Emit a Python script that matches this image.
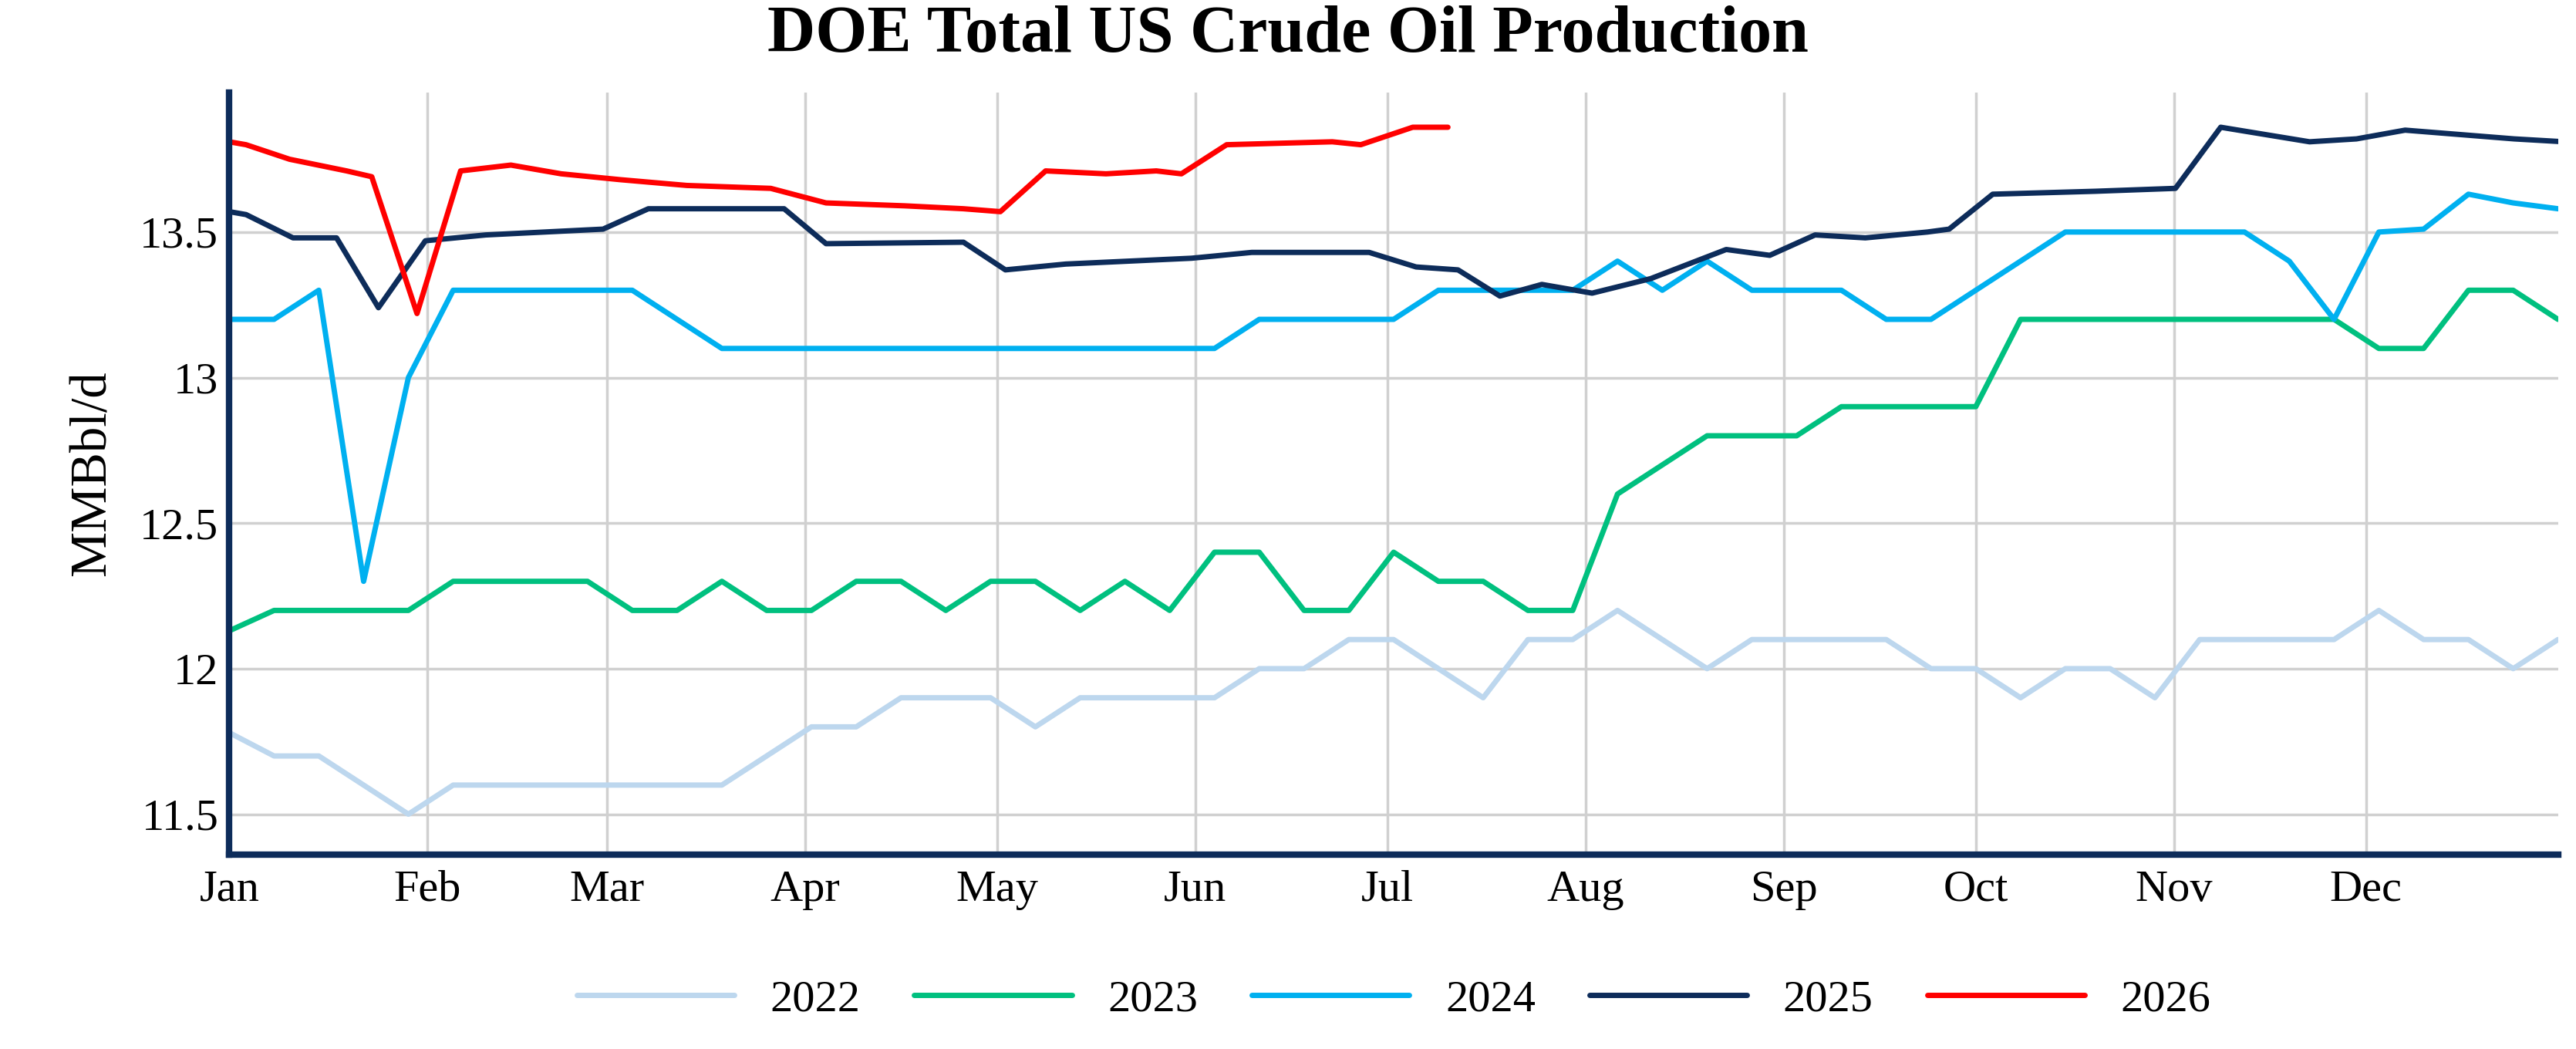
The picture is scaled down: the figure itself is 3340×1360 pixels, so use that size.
import numpy as np, pandas as pd, seaborn as sns, matplotlib
matplotlib.use("Agg")
import matplotlib.pyplot as plt

v2022 = [11.78,11.7,11.7,11.6,11.5,11.6,11.6,11.6,11.6,11.6,11.6,11.6,11.7,11.8,11.8,11.9,11.9,11.9,11.8,11.9,11.9,11.9,11.9,12.0,12.0,12.1,12.1,12.0,11.9,12.1,12.1,12.2,12.1,12.0,12.1,12.1,12.1,12.1,12.0,12.0,11.9,12.0,12.0,11.9,12.1,12.1,12.1,12.1,12.2,12.1,12.1,12.0,12.1]
v2023 = [12.13,12.2,12.2,12.2,12.2,12.3,12.3,12.3,12.3,12.2,12.2,12.3,12.2,12.2,12.3,12.3,12.2,12.3,12.3,12.2,12.3,12.2,12.4,12.4,12.2,12.2,12.4,12.3,12.3,12.2,12.2,12.6,12.7,12.8,12.8,12.8,12.9,12.9,12.9,12.9,13.2,13.2,13.2,13.2,13.2,13.2,13.2,13.2,13.1,13.1,13.3,13.3,13.2]
v2024 = [13.2,13.2,13.3,12.3,13.0,13.3,13.3,13.3,13.3,13.3,13.2,13.1,13.1,13.1,13.1,13.1,13.1,13.1,13.1,13.1,13.1,13.1,13.1,13.2,13.2,13.2,13.2,13.3,13.3,13.3,13.3,13.4,13.3,13.4,13.3,13.3,13.3,13.2,13.2,13.3,13.4,13.5,13.5,13.5,13.5,13.5,13.4,13.2,13.5,13.51,13.63,13.6,13.58]
px2025 = [137,147,175,201,226,254,290,360,387,468,493,575,600,636,711,747,817,845,870,895,920,950,985,1030,1056,1083,1113,1150,1163,1189,1250,1298,1325,1378,1406,1435,1500,1530]
v2025 = [13.57,13.56,13.48,13.48,13.24,13.47,13.49,13.51,13.58,13.58,13.46,13.465,13.37,13.39,13.41,13.43,13.43,13.38,13.37,13.28,13.32,13.29,13.34,13.44,13.42,13.49,13.48,13.5,13.51,13.63,13.64,13.65,13.86,13.81,13.82,13.85,13.82,13.81]
px2026 = [137,147,173,207,222,249,275,305,335,370,410,460,493,540,575,597,624,660,690,705,732,795,812,843,864]
v2026 = [13.81,13.80,13.75,13.71,13.69,13.22,13.71,13.73,13.70,13.68,13.66,13.65,13.60,13.59,13.58,13.57,13.71,13.70,13.71,13.70,13.80,13.81,13.80,13.86,13.86]
months = ["Jan","Feb","Mar","Apr","May","Jun","Jul","Aug","Sep","Oct","Nov","Dec"]
month_days = [0,31,59,90,120,151,181,212,243,273,304,334]

def px2day(p): return [(x-137)*365/1393 for x in p]
rows=[]
for yr,vals in [("2022",v2022),("2023",v2023),("2024",v2024)]:
    for i,v in enumerate(vals): rows.append((yr,i*7,v))
for yr,p,vals in [("2025",px2025,v2025),("2026",px2026,v2026)]:
    for d,v in zip(px2day(p),vals): rows.append((yr,d,v))
df = pd.DataFrame(rows,columns=["year","day","val"])

sns.set_theme(style="white")
plt.rcParams['font.family']=['Liberation Serif','DejaVu Serif']
plt.rcParams['text.color']='black'
fig = plt.figure(figsize=(33.4,13.6),dpi=100)
ax = fig.add_axes([0.089,0.185,0.904,0.727])
pal = {"2022":"#bdd7ee","2023":"#00c07f","2024":"#00b0f0","2025":"#0d2c5a","2026":"#ff0000"}
sns.lineplot(data=df,x="day",y="val",hue="year",palette=pal,linewidth=5,ax=ax,sort=False,estimator=None)
ax.set_xlim(0,364); ax.set_ylim(11.36,13.98)
ax.set_xticks(month_days); ax.set_xticklabels(months,fontsize=42,color="black")
ax.set_yticks([11.5,12,12.5,13,13.5]); ax.set_yticklabels(["11.5","12","12.5","13","13.5"],fontsize=42,color="black")
ax.grid(True,color="#d0d0d0",linewidth=2.5)
for s in ["top","right"]: ax.spines[s].set_visible(False)
for s in ["left","bottom"]:
    ax.spines[s].set_color("#0d2c5a"); ax.spines[s].set_linewidth(6)
ax.tick_params(axis='x',pad=14,length=0); ax.tick_params(axis='y',pad=10,length=0)
ax.set_xlabel(""); ax.set_ylabel("MMBbl/d",fontsize=48,labelpad=22,color="black")
fig.suptitle("DOE Total US Crude Oil Production",fontsize=62,fontweight="bold",y=0.995,color="black")
h,l = ax.get_legend_handles_labels()
ax.legend(h,l,loc="upper center",bbox_to_anchor=(0.5,-0.11),ncol=5,frameon=False,fontsize=42,handlelength=3.5,columnspacing=1.2)
fig.savefig("out.png",dpi=100)
